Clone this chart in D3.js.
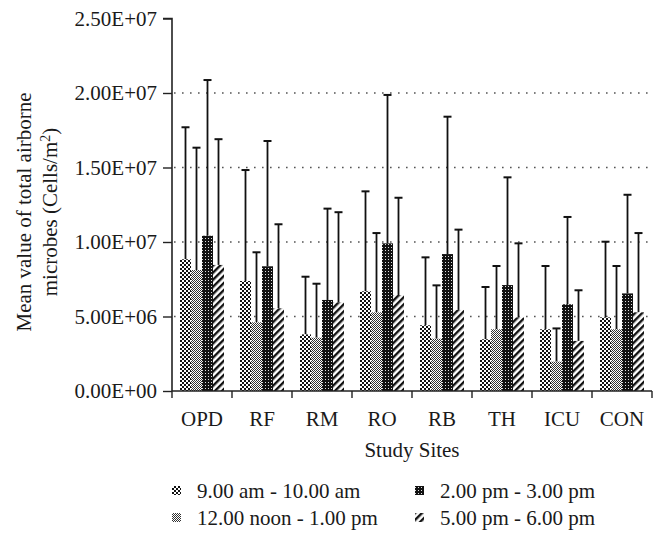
<!DOCTYPE html>
<html><head><meta charset="utf-8">
<script src="https://cdn.jsdelivr.net/npm/d3@7"></script>
<style>
html,body{margin:0;padding:0;background:#fff;}
text{font-family:"Liberation Serif","DejaVu Serif",serif;fill:#1a1a1a;}
</style></head>
<body><svg id="chart" width="664" height="545"></svg>
<script>
const categories = ["OPD","RF","RM","RO","RB","TH","ICU","CON"];
const seriesNames = ["9.00 am - 10.00 am","12.00 noon - 1.00 pm","2.00 pm - 3.00 pm","5.00 pm - 6.00 pm"];
const mean9am  = [8.84e6, 7.38e6, 3.80e6, 6.69e6, 4.41e6, 3.47e6, 4.14e6, 4.94e6];
const sd9am    = [8.86e6, 7.45e6, 3.87e6, 6.71e6, 4.56e6, 3.51e6, 4.25e6, 5.08e6];
const meanNoon = [8.12e6, 4.61e6, 3.58e6, 5.28e6, 3.51e6, 4.14e6, 1.97e6, 4.14e6];
const sdNoon   = [8.21e6, 4.70e6, 3.62e6, 5.32e6, 3.58e6, 4.25e6, 2.23e6, 4.25e6];
const mean2pm  = [1.042e7, 8.37e6, 6.11e6, 9.91e6, 9.19e6, 7.11e6, 5.82e6, 6.55e6];
const sd2pm    = [1.045e7, 8.41e6, 6.13e6, 9.96e6, 9.22e6, 7.23e6, 5.86e6, 6.62e6];
const mean5pm  = [8.46e6, 5.55e6, 5.95e6, 6.44e6, 5.44e6, 4.94e6, 3.36e6, 5.28e6];
const sd5pm    = [8.44e6, 5.64e6, 6.05e6, 6.53e6, 5.39e6, 4.97e6, 3.40e6, 5.32e6];
const yTicks   = [0, 5e6, 1e7, 1.5e7, 2e7, 2.5e7];

const means = [mean9am, meanNoon, mean2pm, mean5pm];
const sds = [sd9am, sdNoon, sd2pm, sd5pm];

const svg = d3.select("#chart");
const pLeft = 172, pRight = 652, pTop = 18.5, pBottom = 391;
const FS = 21;

// patterns
const defs = svg.append("defs");
let p = defs.append("pattern").attr("id","pat0").attr("patternUnits","userSpaceOnUse").attr("width",4).attr("height",4);
p.append("rect").attr("width",4).attr("height",4).attr("fill","#fff");
p.append("rect").attr("width",2).attr("height",2).attr("fill","#111");
p.append("rect").attr("x",2).attr("y",2).attr("width",2).attr("height",2).attr("fill","#111");
p = defs.append("pattern").attr("id","pat1").attr("patternUnits","userSpaceOnUse").attr("width",2).attr("height",2);
p.append("rect").attr("width",2).attr("height",2).attr("fill","#fff");
p.append("rect").attr("width",1).attr("height",1).attr("fill","#333");
p.append("rect").attr("x",1).attr("y",1).attr("width",1).attr("height",1).attr("fill","#333");
p = defs.append("pattern").attr("id","pat2").attr("patternUnits","userSpaceOnUse").attr("width",3).attr("height",3);
p.append("rect").attr("width",3).attr("height",3).attr("fill","#111");
p.append("rect").attr("x",1).attr("y",1).attr("width",1).attr("height",1).attr("fill","#ddd");
p = defs.append("pattern").attr("id","pat3").attr("patternUnits","userSpaceOnUse").attr("width",5).attr("height",5).attr("patternTransform","rotate(45)");
p.append("rect").attr("width",5).attr("height",5).attr("fill","#fff");
p.append("rect").attr("width",2.4).attr("height",5).attr("fill","#111");

const y = d3.scaleLinear().domain([0, 2.5e7]).range([pBottom, pTop]);
const x0 = d3.scaleBand().domain(categories).range([pLeft, pRight]).paddingInner(0.2667).paddingOuter(0.1333);
const x1 = d3.scaleBand().domain(d3.range(4)).range([0, x0.bandwidth()]);

function fmt(v){
  const s = v.toExponential(2).toUpperCase();
  const [m, e] = s.split("E");
  const sign = e[0] === "-" ? "-" : "+";
  const num = e.replace(/[+-]/, "").padStart(2, "0");
  return m + "E" + sign + num;
}

// gridlines
svg.append("g").selectAll("line").data(yTicks.filter(t => t > 0 && t < 2.5e7)).join("line")
  .attr("x1", pLeft + 2).attr("x2", pRight).attr("y1", d => y(d)).attr("y2", d => y(d))
  .attr("stroke","#555").attr("stroke-width",1.6).attr("stroke-dasharray","1.6,6.4");

// bars
const groups = svg.append("g").selectAll("g").data(categories).join("g")
  .attr("transform", c => `translate(${x0(c)},0)`);
groups.each(function(c, ci){
  const g = d3.select(this);
  for (let s = 0; s < 4; s++) {
    const m = means[s][ci], sd = sds[s][ci];
    const cx = x1(s) + x1.bandwidth()/2;
    g.append("line").attr("x1",cx).attr("x2",cx).attr("y1",y(m)).attr("y2",y(m+sd))
      .attr("stroke","#111").attr("stroke-width",1.8);
    g.append("line").attr("x1",cx-4).attr("x2",cx+4).attr("y1",y(m+sd)).attr("y2",y(m+sd))
      .attr("stroke","#111").attr("stroke-width",2);
    g.append("rect").attr("x",x1(s)).attr("width",x1.bandwidth())
      .attr("y",y(m)).attr("height",pBottom - y(m)).attr("fill",`url(#pat${s})`);
  }
});

// y axis
const yAxis = d3.axisLeft(y).tickValues(yTicks).tickFormat(fmt).tickSize(9).tickPadding(6);
const ya = svg.append("g").attr("transform",`translate(${pLeft},0)`).call(yAxis);
ya.select(".domain").attr("stroke","#222").attr("stroke-width",1.6).attr("d",`M-9,${pTop}H0V${pBottom}`);
ya.selectAll(".tick line").attr("stroke","#222").attr("stroke-width",1.4);
ya.selectAll("text").attr("font-size",FS).attr("font-family","Liberation Serif").attr("fill","#1a1a1a");

// x axis
const xAxis = d3.axisBottom(x0).tickSize(0).tickPadding(20);
const xa = svg.append("g").attr("transform",`translate(0,${pBottom})`).call(xAxis);
xa.select(".domain").attr("stroke","#222").attr("stroke-width",1.6).attr("d",`M${pLeft},0H${pRight}`);
xa.selectAll("text").attr("font-size",FS).attr("font-family","Liberation Serif").attr("fill","#1a1a1a");
const half = (x0.step() - x0.bandwidth())/2;
const bounds = categories.map(c => x0(c) - half).concat([x0(categories[categories.length-1]) + x0.bandwidth() + half]);
svg.append("g").selectAll("line").data(bounds).join("line")
  .attr("x1", d => d).attr("x2", d => d).attr("y1", pBottom).attr("y2", pBottom + 7)
  .attr("stroke","#222").attr("stroke-width",1.4);

// axis titles
svg.append("text").attr("x",(pLeft+pRight)/2).attr("y",457).attr("text-anchor","middle")
  .attr("font-size",FS).text("Study Sites");
const yt = svg.append("text").attr("transform","translate(31,212) rotate(-90)").attr("text-anchor","middle").attr("font-size",FS);
yt.append("tspan").attr("x",0).attr("dy",0).text("Mean value of total airborne");
const line2 = svg.append("text").attr("transform","translate(57,212) rotate(-90)").attr("text-anchor","middle").attr("font-size",FS);
line2.append("tspan").text("microbes (Cells/m");
line2.append("tspan").attr("baseline-shift","super").attr("font-size",14).text("2");
line2.append("tspan").text(")");

// legend
const legendPos = [[172,498],[172,525],[415,498],[415,525]];
seriesNames.forEach((n, i) => {
  const [lx, ly] = legendPos[i];
  svg.append("rect").attr("x",lx).attr("y",ly-12).attr("width",9).attr("height",9).attr("fill",`url(#pat${i})`);
  svg.append("text").attr("x",lx+25).attr("y",ly).attr("font-size",FS).text(n);
});
</script></body></html>
